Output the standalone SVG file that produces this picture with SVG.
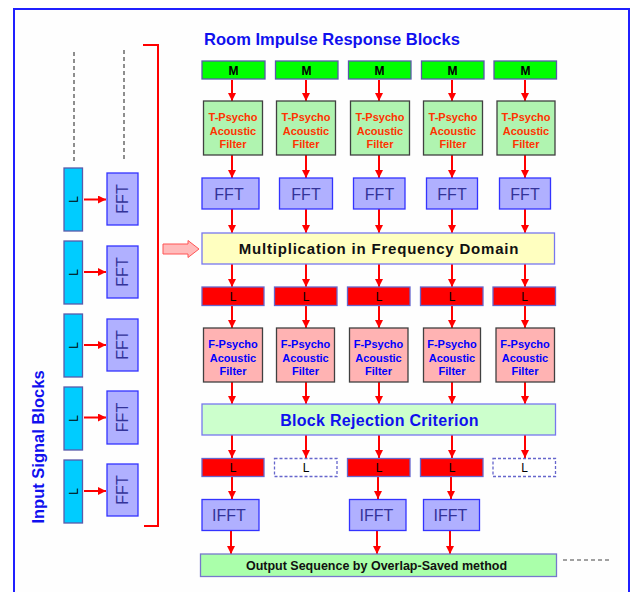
<svg xmlns="http://www.w3.org/2000/svg" width="635" height="592" viewBox="0 0 635 592">
<defs>
<marker id="ah" viewBox="0 0 8 8" markerUnits="userSpaceOnUse" markerWidth="8" markerHeight="8" refX="8" refY="4" orient="auto">
<path d="M0,0 L8,4 L0,8 z" fill="#ff0000"/>
</marker>
<style>
text{font-family:"Liberation Sans",Arial,sans-serif;text-anchor:middle}
.m{fill:#00ff00;stroke:#5a5aaa;stroke-width:1.3}
.tp{fill:#b0f4b0;stroke:#404040;stroke-width:1.3}
.fp{fill:#ffb3b3;stroke:#404040;stroke-width:1.3}
.fft{fill:#b0b0ff;stroke:#3333ff;stroke-width:1.3}
.lr{fill:#ff0000;stroke:#6666cc;stroke-width:1.3}
.ld{fill:#ffffff;stroke:#6666cc;stroke-width:1.3;stroke-dasharray:3,2}
.lc{fill:#00ccff;stroke:#5a5aaa;stroke-width:1.3}
.mt{font-size:12px;font-weight:bold;fill:#000}
.lt{font-size:12px;fill:#000}
.tt{font-size:11px;font-weight:bold;fill:#ff3300}
.ft{font-size:11px;font-weight:bold;fill:#0000ff}
.fftt{font-size:16px;fill:#333399}
.ar{stroke:#ff0000;stroke-width:2;fill:none;marker-end:url(#ah)}
.dl{stroke:#444;stroke-width:1.2;stroke-dasharray:4,3;fill:none}
</style>
</defs>
<rect x="0" y="0" width="635" height="592" fill="#ffffff"/>
<rect id="frame" x="14" y="9" width="615" height="600" fill="#fefefe" stroke="#2020ff" stroke-width="2"/>

<text id="title" x="332" y="45" style="font-size:16.5px;font-weight:bold;fill:#1010ee">Room Impulse Response Blocks</text>
<text id="input-label" transform="translate(44,447) rotate(-90)" style="font-size:16.5px;font-weight:bold;fill:#1010ee">Input Signal Blocks</text>

<g id="connectors">
<path d="M143,45 H158 V526 H144" stroke="#ff0000" stroke-width="2" fill="none"/>
<path class="dl" d="M74,52 V163"/>
<path class="dl" d="M124,50 V162"/>
<path class="dl" d="M563,560 H612"/>
<polygon points="163,244 188,244 188,240.5 199,249 188,257.5 188,254 163,254" fill="#ffbbbb" stroke="#ff5555" stroke-width="1"/>
<path class="ar" d="M84,199.5 H106"/>
<path class="ar" d="M84,272 H106"/>
<path class="ar" d="M84,345 H106"/>
<path class="ar" d="M84,417.5 H106"/>
<path class="ar" d="M84,491 H106"/>
<path class="ar" d="M232,80 V101"/><path class="ar" d="M306,80 V101"/><path class="ar" d="M379,80 V101"/><path class="ar" d="M452,80 V101"/><path class="ar" d="M525,80 V101"/>
<path class="ar" d="M232,155 V178"/><path class="ar" d="M306,155 V178"/><path class="ar" d="M379,155 V178"/><path class="ar" d="M452,155 V178"/><path class="ar" d="M525,155 V178"/>
<path class="ar" d="M232,209 V233"/><path class="ar" d="M306,209 V233"/><path class="ar" d="M379,209 V233"/><path class="ar" d="M452,209 V233"/><path class="ar" d="M525,209 V233"/>
<path class="ar" d="M232,264 V287"/><path class="ar" d="M306,264 V287"/><path class="ar" d="M379,264 V287"/><path class="ar" d="M452,264 V287"/><path class="ar" d="M525,264 V287"/>
<path class="ar" d="M232,306 V328"/><path class="ar" d="M306,306 V328"/><path class="ar" d="M379,306 V328"/><path class="ar" d="M452,306 V328"/><path class="ar" d="M525,306 V328"/>
<path class="ar" d="M232,382 V404"/><path class="ar" d="M306,382 V404"/><path class="ar" d="M379,382 V404"/><path class="ar" d="M452,382 V404"/><path class="ar" d="M525,382 V404"/>
<path class="ar" d="M232,435 V458"/><path class="ar" d="M306,435 V458"/><path class="ar" d="M379,435 V458"/><path class="ar" d="M452,435 V458"/><path class="ar" d="M525,435 V458"/>
<path class="ar" d="M232,477 V499"/><path class="ar" d="M378,477 V499"/><path class="ar" d="M451,477 V499"/>
<path class="ar" d="M231,530 V554"/><path class="ar" d="M377,530 V554"/><path class="ar" d="M450,530 V554"/>
</g>

<g id="left-blocks">
<g id="inL1"><rect class="lc" x="64" y="168" width="18.5" height="63"/><text class="lt" transform="translate(77.5,199.5) rotate(-90)">L</text></g>
<g id="inL2"><rect class="lc" x="64" y="241" width="18.5" height="63"/><text class="lt" transform="translate(77.5,272.5) rotate(-90)">L</text></g>
<g id="inL3"><rect class="lc" x="64" y="314" width="18.5" height="63"/><text class="lt" transform="translate(77.5,345.5) rotate(-90)">L</text></g>
<g id="inL4"><rect class="lc" x="64" y="387" width="18.5" height="63"/><text class="lt" transform="translate(77.5,418.5) rotate(-90)">L</text></g>
<g id="inL5"><rect class="lc" x="64" y="460" width="18.5" height="63"/><text class="lt" transform="translate(77.5,491.5) rotate(-90)">L</text></g>
<g id="inF1"><rect class="fft" x="107" y="173" width="31" height="52"/><text class="fftt" transform="translate(128,199) rotate(-90)">FFT</text></g>
<g id="inF2"><rect class="fft" x="107" y="246" width="31" height="52"/><text class="fftt" transform="translate(128,272) rotate(-90)">FFT</text></g>
<g id="inF3"><rect class="fft" x="107" y="319" width="31" height="52"/><text class="fftt" transform="translate(128,345) rotate(-90)">FFT</text></g>
<g id="inF4"><rect class="fft" x="107" y="391" width="31" height="53"/><text class="fftt" transform="translate(128,417.5) rotate(-90)">FFT</text></g>
<g id="inF5"><rect class="fft" x="107" y="464" width="31" height="52"/><text class="fftt" transform="translate(128,490) rotate(-90)">FFT</text></g>
</g>

<g id="m-row">
<g id="m1"><rect class="m" x="202" y="61" width="63" height="18"/><text class="mt" x="233.5" y="74.5">M</text></g>
<g id="m2"><rect class="m" x="275.5" y="61" width="62.5" height="18"/><text class="mt" x="306.5" y="74.5">M</text></g>
<g id="m3"><rect class="m" x="348.5" y="61" width="62.5" height="18"/><text class="mt" x="379.5" y="74.5">M</text></g>
<g id="m4"><rect class="m" x="421.5" y="61" width="62.5" height="18"/><text class="mt" x="452.5" y="74.5">M</text></g>
<g id="m5"><rect class="m" x="494" y="61" width="62.5" height="18"/><text class="mt" x="525.5" y="74.5">M</text></g>
</g>

<g id="t-row">
<g id="t1"><rect class="tp" x="203.5" y="101" width="59" height="54"/><text class="tt" x="233" y="121">T-Psycho</text><text class="tt" x="233" y="134.5">Acoustic</text><text class="tt" x="233" y="148">Filter</text></g>
<g id="t2"><rect class="tp" x="276.5" y="101" width="59" height="54"/><text class="tt" x="306" y="121">T-Psycho</text><text class="tt" x="306" y="134.5">Acoustic</text><text class="tt" x="306" y="148">Filter</text></g>
<g id="t3"><rect class="tp" x="350.5" y="101" width="59" height="54"/><text class="tt" x="380" y="121">T-Psycho</text><text class="tt" x="380" y="134.5">Acoustic</text><text class="tt" x="380" y="148">Filter</text></g>
<g id="t4"><rect class="tp" x="423.5" y="101" width="59" height="54"/><text class="tt" x="453" y="121">T-Psycho</text><text class="tt" x="453" y="134.5">Acoustic</text><text class="tt" x="453" y="148">Filter</text></g>
<g id="t5"><rect class="tp" x="497" y="101" width="58" height="54"/><text class="tt" x="526" y="121">T-Psycho</text><text class="tt" x="526" y="134.5">Acoustic</text><text class="tt" x="526" y="148">Filter</text></g>
</g>

<g id="fft-row">
<g id="f1"><rect class="fft" x="202" y="178" width="57" height="31"/><text class="fftt" x="229" y="199.5">FFT</text></g>
<g id="f2"><rect class="fft" x="279.5" y="178" width="53" height="31"/><text class="fftt" x="306" y="199.5">FFT</text></g>
<g id="f3"><rect class="fft" x="353.5" y="178" width="51.5" height="31"/><text class="fftt" x="379.5" y="199.5">FFT</text></g>
<g id="f4"><rect class="fft" x="426.5" y="178" width="51" height="31"/><text class="fftt" x="452" y="199.5">FFT</text></g>
<g id="f5"><rect class="fft" x="499.5" y="178" width="51" height="31"/><text class="fftt" x="525" y="199.5">FFT</text></g>
</g>

<g id="mult"><rect x="202" y="233" width="352.5" height="31" fill="#ffffc0" stroke="#7777ee" stroke-width="1.3"/><text x="379" y="254" style="font-size:15px;font-weight:bold;fill:#111;letter-spacing:0.8px">Multiplication in Frequency Domain</text></g>

<g id="l-row">
<g id="l1"><rect class="lr" x="202" y="287" width="62" height="18.5"/><text class="lt" x="233" y="300.5">L</text></g>
<g id="l2"><rect class="lr" x="274.5" y="287" width="62.5" height="18.5"/><text class="lt" x="306" y="300.5">L</text></g>
<g id="l3"><rect class="lr" x="347.5" y="287" width="62.5" height="18.5"/><text class="lt" x="379" y="300.5">L</text></g>
<g id="l4"><rect class="lr" x="420.5" y="287" width="62.5" height="18.5"/><text class="lt" x="452" y="300.5">L</text></g>
<g id="l5"><rect class="lr" x="493" y="287" width="62.5" height="18.5"/><text class="lt" x="524.5" y="300.5">L</text></g>
</g>

<g id="fp-row">
<g id="fp1"><rect class="fp" x="203.5" y="328" width="59" height="54"/><text class="ft" x="233" y="348">F-Psycho</text><text class="ft" x="233" y="361.5">Acoustic</text><text class="ft" x="233" y="375">Filter</text></g>
<g id="fp2"><rect class="fp" x="276.5" y="328" width="58" height="54"/><text class="ft" x="305.5" y="348">F-Psycho</text><text class="ft" x="305.5" y="361.5">Acoustic</text><text class="ft" x="305.5" y="375">Filter</text></g>
<g id="fp3"><rect class="fp" x="349.5" y="328" width="58.5" height="54"/><text class="ft" x="378.5" y="348">F-Psycho</text><text class="ft" x="378.5" y="361.5">Acoustic</text><text class="ft" x="378.5" y="375">Filter</text></g>
<g id="fp4"><rect class="fp" x="423.5" y="328" width="57" height="54"/><text class="ft" x="452" y="348">F-Psycho</text><text class="ft" x="452" y="361.5">Acoustic</text><text class="ft" x="452" y="375">Filter</text></g>
<g id="fp5"><rect class="fp" x="496" y="328" width="58.5" height="54"/><text class="ft" x="525" y="348">F-Psycho</text><text class="ft" x="525" y="361.5">Acoustic</text><text class="ft" x="525" y="375">Filter</text></g>
</g>

<g id="block-rejection"><rect x="202" y="404" width="353.5" height="31" fill="#ccffcc" stroke="#7777ee" stroke-width="1.3"/><text x="379.5" y="426" style="font-size:16px;font-weight:bold;fill:#1010ee;letter-spacing:0.3px">Block Rejection Criterion</text></g>

<g id="l2-row">
<g id="lb1"><rect class="lr" x="202" y="458.5" width="62" height="18"/><text class="lt" x="233" y="472">L</text></g>
<g id="lb2"><rect class="ld" x="274.5" y="458.5" width="62.5" height="18"/><text class="lt" x="306" y="472">L</text></g>
<g id="lb3"><rect class="lr" x="347.5" y="458.5" width="62.5" height="18"/><text class="lt" x="379" y="472">L</text></g>
<g id="lb4"><rect class="lr" x="420.5" y="458.5" width="62.5" height="18"/><text class="lt" x="452" y="472">L</text></g>
<g id="lb5"><rect class="ld" x="493" y="458.5" width="62.5" height="18"/><text class="lt" x="524.5" y="472">L</text></g>
</g>

<g id="ifft-row">
<g id="if1"><rect class="fft" x="202" y="499.5" width="57" height="31"/><text class="fftt" x="229" y="521">IFFT</text></g>
<g id="if3"><rect class="fft" x="349.5" y="499.5" width="56.5" height="31"/><text class="fftt" x="376.5" y="521">IFFT</text></g>
<g id="if4"><rect class="fft" x="423.5" y="499.5" width="56" height="31"/><text class="fftt" x="450.5" y="521">IFFT</text></g>
</g>

<g id="output"><rect x="200.5" y="554" width="356" height="22.5" fill="#aaffaa" stroke="#7777cc" stroke-width="1.3"/><text x="376.5" y="570" style="font-size:12.5px;font-weight:bold;fill:#111">Output Sequence by Overlap-Saved method</text></g>
</svg>
